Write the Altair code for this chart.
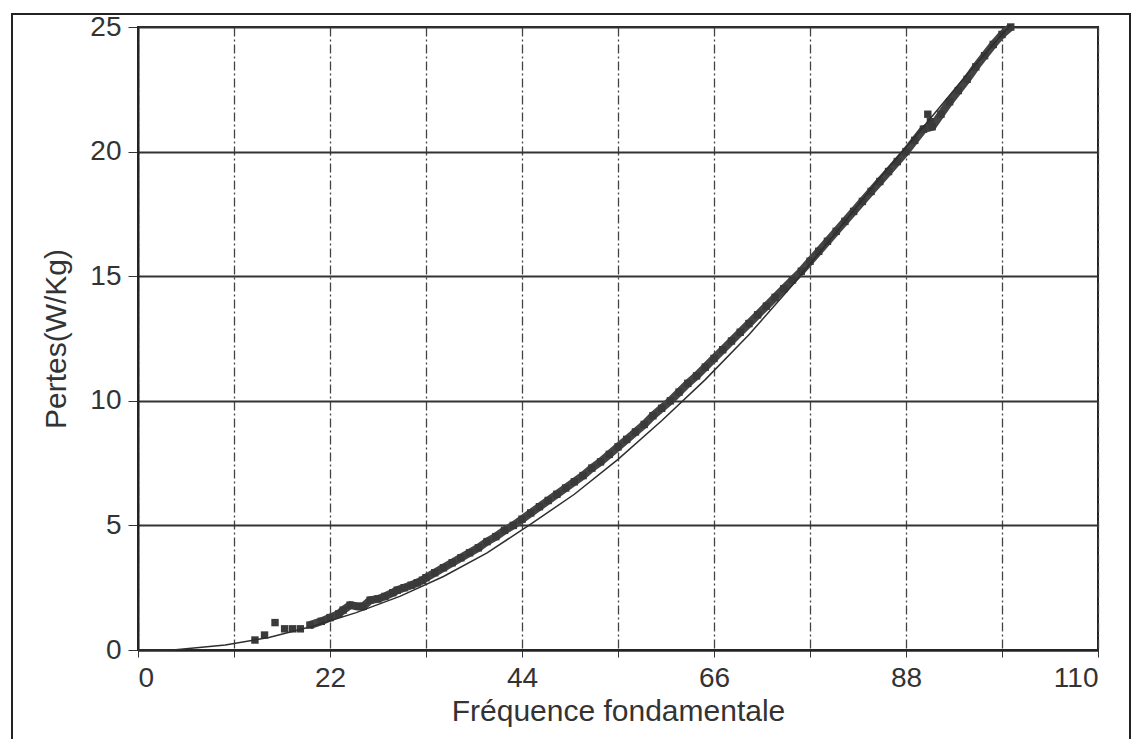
import altair as alt
import pandas as pd

# Measured losses (square markers)
meas_f = [13.4, 14.5, 15.7, 16.8, 17.7, 18.6, 19.7, 21.0, 22.0, 23.0, 23.5, 24.3, 25.2, 25.8, 26.6,
          27.5, 28.3, 29.2, 29.7, 30.5, 31.3, 32.0, 32.6,
          33, 34, 35, 36, 37, 38, 39, 40, 41, 42, 43, 44, 45, 46, 47, 48, 49, 50,
          51, 52, 53, 54, 55, 56, 57, 58, 59, 60, 61, 62, 63, 64, 65, 66, 67, 68, 69, 70,
          71, 72, 73, 74, 75, 76, 77, 78, 79, 80, 81, 82, 83, 84, 85, 86, 87, 88, 89, 90,
          90.5, 90.8, 91, 92, 93, 94, 95, 96, 97, 98, 99, 100]
meas_p = [0.40, 0.60, 1.10, 0.85, 0.85, 0.85, 1.00, 1.15, 1.30, 1.45, 1.60, 1.80, 1.75, 1.75, 2.00,
          2.05, 2.15, 2.30, 2.40, 2.50, 2.60, 2.70, 2.80,
          2.90, 3.10, 3.30, 3.50, 3.70, 3.90, 4.10, 4.35, 4.55, 4.80, 5.00, 5.25, 5.50, 5.75, 6.00, 6.25, 6.50, 6.75,
          7.00, 7.30, 7.55, 7.85, 8.15, 8.45, 8.75, 9.05, 9.40, 9.70, 10.00, 10.35, 10.70, 11.00, 11.35, 11.70, 12.05, 12.40, 12.75, 13.10,
          13.45, 13.80, 14.15, 14.50, 14.85, 15.20, 15.60, 16.00, 16.40, 16.80, 17.20, 17.60, 18.00, 18.40, 18.80, 19.20, 19.60, 20.00, 20.45, 20.90,
          21.50, 21.20, 21.00, 21.50, 22.00, 22.45, 22.90, 23.40, 23.85, 24.30, 24.70, 25.00]

# Model curve (thin line)
model_f = [0, 4, 10, 15, 20, 25, 30, 35, 40, 45, 50, 55, 60, 65, 70, 75, 80, 85, 90, 95, 100]
model_p = [0.0, 0.0, 0.20, 0.50, 0.95, 1.50, 2.15, 2.95, 3.90, 5.05, 6.25, 7.65, 9.20, 10.85, 12.65,
           14.65, 16.75, 18.95, 21.00, 23.10, 25.10]

meas = pd.DataFrame({"f": meas_f, "p": meas_p})
model = pd.DataFrame({"f": model_f, "p": model_p})
frame = pd.DataFrame({"k": [0]})

FONT = "Liberation Sans"
INK = "#333333"

xs = alt.Scale(domain=[0, 110], nice=False, zero=False)
ys = alt.Scale(domain=[0, 25], nice=False, zero=False)

x_axis = alt.Axis(values=list(range(0, 111, 11)),
                  labelExpr="datum.value % 22 == 0 ? datum.label : ''",
                  title="Fréquence fondamentale",
                  grid=True, gridDash=[9, 3, 2, 3], gridColor="#444444", gridWidth=1.3,
                  tickSize=7, tickColor=INK, labelPadding=7, titlePadding=4,
                  labelFontSize=28, titleFontSize=30,
                  domainColor="#222222", domainWidth=2)
y_axis = alt.Axis(values=[0, 5, 10, 15, 20, 25], title="Pertes(W/Kg)",
                  grid=True, gridColor="#333333", gridWidth=1.8,
                  tickSize=10, tickColor=INK, labelPadding=7, titlePadding=18,
                  labelFontSize=28, titleFontSize=30,
                  domainColor="#222222", domainWidth=2)

band = alt.Chart(meas).mark_line(color="#444444", strokeWidth=8).encode(
    x=alt.X("f:Q", scale=xs, axis=x_axis),
    y=alt.Y("p:Q", scale=ys, axis=y_axis),
).transform_filter(
    "datum.f >= 19.7 && (datum.f < 90.2 || datum.f > 90.9)"
)
pts = alt.Chart(meas).mark_point(shape="square", filled=True, size=55, color="#3a3a3a", opacity=1).encode(
    x=alt.X("f:Q", scale=xs),
    y=alt.Y("p:Q", scale=ys),
)
line = alt.Chart(model).mark_line(color="#2e2e2e", strokeWidth=1.5).encode(
    x=alt.X("f:Q", scale=xs),
    y=alt.Y("p:Q", scale=ys),
)
border = alt.Chart(frame).mark_rect(fill=None, stroke="#222222", strokeWidth=2).encode(
    x=alt.value(-126), x2=alt.value(992), y=alt.value(-13), y2=alt.value(716)
)

chart = alt.layer(band, pts, line, border).properties(
    width=960, height=623,
    autosize=alt.AutoSizeParams(type="none"),
    padding={"left": 130, "top": 19, "right": 34, "bottom": 89},
    background="white",
).configure_view(
    stroke="#222222", strokeWidth=2
).configure_axis(
    labelFont=FONT, titleFont=FONT,
    labelColor=INK, titleColor=INK, titleFontWeight="normal",
)

chart.save("out.html", embed_options={"renderer": "svg", "actions": False})
